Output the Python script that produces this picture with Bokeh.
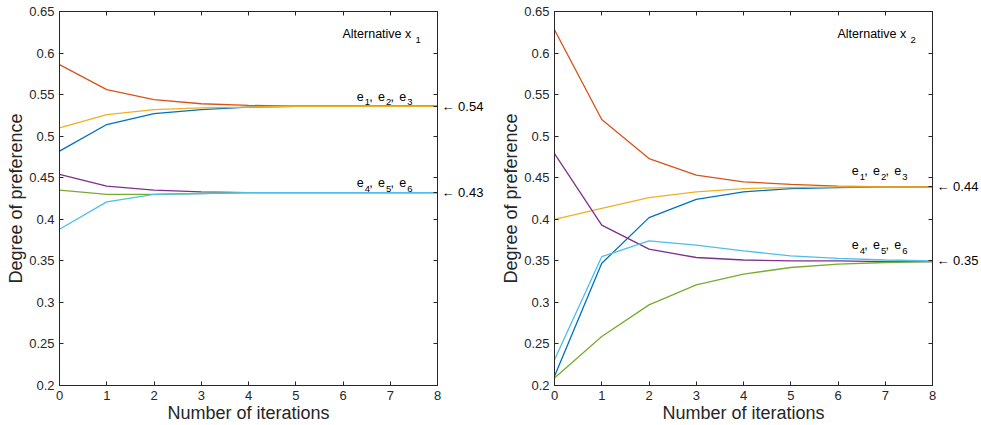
from bokeh.plotting import figure
from bokeh.layouts import row
from bokeh.models import Range1d, FixedTicker, LinearAxis, Label
from bokeh.embed import file_html
from bokeh.resources import INLINE

iterations = [0, 1, 2, 3, 4, 5, 6, 7, 8]

# Alternative x1
x1_e1 = [0.482, 0.514, 0.527, 0.532, 0.535, 0.536, 0.536, 0.536, 0.536]
x1_e2 = [0.586, 0.556, 0.544, 0.539, 0.537, 0.536, 0.536, 0.536, 0.536]
x1_e3 = [0.510, 0.526, 0.532, 0.534, 0.535, 0.536, 0.536, 0.536, 0.536]
x1_e4 = [0.454, 0.440, 0.435, 0.433, 0.432, 0.432, 0.432, 0.432, 0.432]
x1_e5 = [0.435, 0.430, 0.430, 0.431, 0.432, 0.432, 0.432, 0.432, 0.432]
x1_e6 = [0.388, 0.421, 0.430, 0.431, 0.432, 0.432, 0.432, 0.432, 0.432]

# Alternative x2
x2_e1 = [0.211, 0.347, 0.402, 0.424, 0.433, 0.437, 0.438, 0.439, 0.439]
x2_e2 = [0.628, 0.520, 0.473, 0.453, 0.445, 0.442, 0.440, 0.439, 0.439]
x2_e3 = [0.400, 0.413, 0.426, 0.433, 0.437, 0.438, 0.439, 0.439, 0.439]
x2_e4 = [0.479, 0.393, 0.364, 0.354, 0.351, 0.350, 0.350, 0.349, 0.349]
x2_e5 = [0.209, 0.259, 0.297, 0.321, 0.334, 0.342, 0.346, 0.348, 0.349]
x2_e6 = [0.231, 0.355, 0.374, 0.369, 0.362, 0.356, 0.353, 0.351, 0.350]

expert_colors = ["#0072BD", "#D95319", "#EDB120", "#7E2F8E", "#77AC30", "#4DBEEE"]

y_ticks = [0.2, 0.25, 0.3, 0.35, 0.4, 0.45, 0.5, 0.55, 0.6, 0.65]
y_tick_labels = ["0.2", "0.25", "0.3", "0.35", "0.4", "0.45", "0.5", "0.55", "0.6", "0.65"]

x1_consensus = [0.536, 0.432]
x1_consensus_labels = ["0.54", "0.43"]
x2_consensus = [0.439, 0.350]
x2_consensus_labels = ["0.44", "0.35"]

# group label anchors (data coords of the baseline of first "e")
group_label_x = 6.29
x1_group_label_y = [0.548, 0.444]
x2_group_label_y = [0.4585, 0.3696]
group_indices = [["1", "2", "3"], ["4", "5", "6"]]

FONT = "Liberation Sans"
INK = "#262626"


def style_axis(ax):
    ax.axis_line_color = INK
    ax.axis_line_width = 1
    ax.major_tick_in = 4
    ax.major_tick_out = 0
    ax.minor_tick_line_color = None
    ax.major_tick_line_color = INK
    ax.major_label_text_font = FONT
    ax.major_label_text_font_size = "13px"
    ax.major_label_text_color = INK
    ax.axis_label_text_font = FONT
    ax.axis_label_text_font_size = "18px"
    ax.axis_label_text_font_style = "normal"
    ax.axis_label_text_color = INK
    ax.axis_label_standoff = 0
    ax.major_label_standoff = 5


def make_panel(series, consensus, consensus_labels, group_y, alt_sub, width, border_right):
    p = figure(width=width, height=425, output_backend="svg", toolbar_location=None,
               x_range=Range1d(0, 8), y_range=Range1d(0.2, 0.65),
               min_border_left=59, min_border_right=border_right,
               min_border_top=11, min_border_bottom=38)
    p.grid.visible = False
    p.outline_line_color = INK
    p.outline_line_width = 1
    p.background_fill_color = "white"
    p.border_fill_color = "white"

    for s, c in zip(series, expert_colors):
        p.line(iterations, s, line_color=c, line_width=1.3)

    # main axes
    xa = p.xaxis[0]
    ya = p.yaxis[0]
    style_axis(xa)
    style_axis(ya)
    xa.ticker = FixedTicker(ticks=iterations)
    ya.ticker = FixedTicker(ticks=y_ticks)
    ya.major_label_overrides = dict(zip(y_ticks, y_tick_labels))
    xa.axis_label = "Number of iterations"
    ya.axis_label = "Degree of preference"

    # box axes: top has ticks only; right has ticks plus the consensus values
    top = LinearAxis(ticker=FixedTicker(ticks=iterations))
    style_axis(top)
    top.major_label_overrides = {t: "" for t in iterations}
    top.major_label_standoff = 0
    p.add_layout(top, "above")

    right_ticks = sorted(set(y_ticks) | set(consensus))
    right = LinearAxis(ticker=FixedTicker(ticks=right_ticks))
    style_axis(right)
    overrides = {t: "" for t in right_ticks}
    for v, t in zip(consensus, consensus_labels):
        overrides[v] = "\u2190 " + t
    right.major_label_overrides = overrides
    right.major_label_text_color = "black"
    right.major_label_standoff = 4
    p.add_layout(right, "right")

    # group labels e_i, e_j, e_k
    for gy, idxs in zip(group_y, group_indices):
        for k, idx in enumerate(idxs):
            base = k * 21.3
            p.add_layout(Label(x=group_label_x, y=gy, x_offset=base, text="e",
                               text_font=FONT, text_font_size="12.5px", text_color="black",
                               text_baseline="alphabetic", text_align="left"))
            p.add_layout(Label(x=group_label_x, y=gy, x_offset=base + 8, y_offset=-6, text=idx,
                               text_font=FONT, text_font_size="9.5px", text_color="black",
                               text_baseline="alphabetic", text_align="left"))
            if k < len(idxs) - 1:
                p.add_layout(Label(x=group_label_x, y=gy, x_offset=base + 12.5, text=",",
                                   text_font=FONT, text_font_size="12.5px", text_color="black",
                                   text_baseline="alphabetic", text_align="left"))

    # alternative title
    p.add_layout(Label(x=8, y=0.65, x_offset=-95, y_offset=-22.6, text="Alternative x",
                       text_font=FONT, text_font_size="12.5px", text_color="black",
                       text_baseline="alphabetic", text_align="left"))
    p.add_layout(Label(x=8, y=0.65, x_offset=-22, y_offset=-28.6, text=alt_sub,
                       text_font=FONT, text_font_size="9.5px", text_color="black",
                       text_baseline="alphabetic", text_align="left"))
    return p


p1 = make_panel([x1_e1, x1_e2, x1_e3, x1_e4, x1_e5, x1_e6], x1_consensus, x1_consensus_labels,
                x1_group_label_y, "1", 495, 58)
p2 = make_panel([x2_e1, x2_e2, x2_e3, x2_e4, x2_e5, x2_e6], x2_consensus, x2_consensus_labels,
                x2_group_label_y, "2", 486, 49)

layout = row(p1, p2, spacing=0)
open("out.html", "w").write(file_html(layout, INLINE))
